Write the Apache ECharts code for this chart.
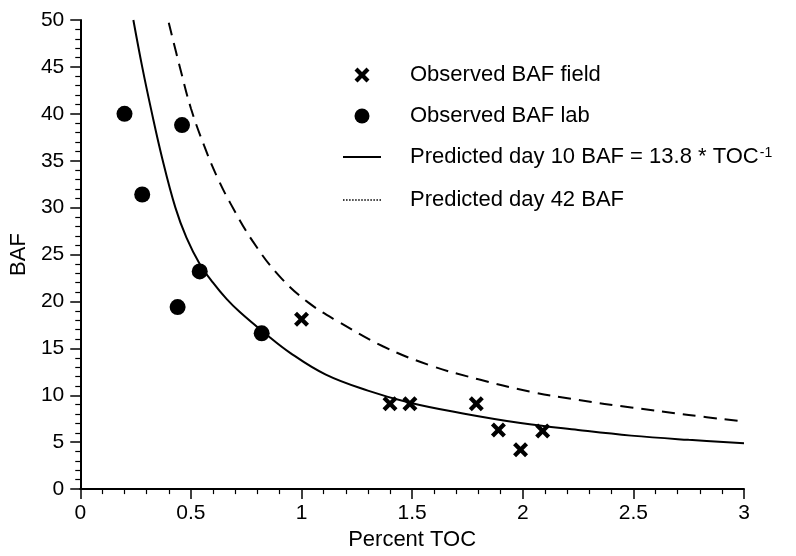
<!DOCTYPE html>
<html>
<head>
<meta charset="utf-8">
<script src="https://cdn.jsdelivr.net/npm/echarts@6/dist/echarts.min.js"></script>
<style>html,body{margin:0;padding:0;background:#fff}#c{width:796px;height:556px}</style>
</head>
<body>
<div id="c"></div>
<script>
// ---- data ----
var xTicks = [0, 0.5, 1, 1.5, 2, 2.5, 3];
var yTicks = [0, 5, 10, 15, 20, 25, 30, 35, 40, 45, 50];

var fieldX = [1.0, 1.40, 1.49, 1.79, 1.89, 1.99, 2.09];
var fieldY = [18.1, 9.1, 9.1, 9.1, 6.3, 4.2, 6.2];

var labX = [0.20, 0.28, 0.46, 0.44, 0.54, 0.82];
var labY = [40.0, 31.4, 38.8, 19.4, 23.2, 16.6];

var day10X = [0.24, 0.28, 0.32, 0.37, 0.43, 0.48, 0.54, 0.60, 0.66, 0.72, 0.83, 0.95, 1.11, 1.30, 1.49, 1.73, 1.99, 2.25, 2.49, 2.75, 3.0];
var day10Y = [50.0, 45.0, 40.5, 35.3, 30.0, 26.8, 24.0, 22.0, 20.3, 18.9, 16.7, 14.5, 12.2, 10.5, 9.2, 8.06, 7.04, 6.3, 5.7, 5.25, 4.9];

var day42X = [0.40, 0.45, 0.50, 0.56, 0.62, 0.68, 0.78, 0.90, 1.03, 1.17, 1.37, 1.58, 1.80, 2.03, 2.25, 2.49, 2.75, 3.0];
var day42Y = [49.7, 45.0, 40.6, 36.6, 33.2, 30.4, 26.4, 22.7, 19.9, 17.8, 15.2, 13.2, 11.7, 10.4, 9.5, 8.7, 7.9, 7.2];

var seriesNames = ['Observed BAF field', 'Observed BAF lab', 'Predicted day 10 BAF', 'Predicted day 42 BAF'];

function zip(a, b) { return a.map(function (v, i) { return [v, b[i]]; }); }

var FONT = 'Liberation Sans';
var xPath = 'path://M0,3 L3,0 L7.5,4.5 L12,0 L15,3 L10.5,7.5 L15,12 L12,15 L7.5,10.5 L3,15 L0,12 L4.5,7.5 Z';
var solidPath = 'path://M0,0H38V1.8H0Z';
var dotted = '';
for (var i = 0; i < 38; i += 3) dotted += 'M' + i + ',0h1.5v1.5h-1.5z';
var dottedPath = 'path://' + dotted;

var chart = echarts.init(document.getElementById('c'), null, {renderer: 'canvas'});
function axisCommon(labelMargin) {
  return {
    axisLine: {show: true, onZero: false, lineStyle: {color: '#000', width: 2}},
    axisTick: {show: true, length: 10, lineStyle: {color: '#000', width: 1.5}},
    minorTick: {show: true, splitNumber: 5, length: 5, lineStyle: {color: '#000', width: 1.2}},
    splitLine: {show: false},
    axisLabel: {color: '#000', fontFamily: FONT, fontSize: 21, margin: labelMargin},
    nameTextStyle: {color: '#000', fontFamily: FONT, fontSize: 22}
  };
}
chart.setOption({
  backgroundColor: '#fff',
  animation: false,
  grid: {left: 80, right: 52, top: 20, bottom: 60},
  xAxis: Object.assign({
    type: 'value', min: xTicks[0], max: xTicks[xTicks.length - 1], interval: xTicks[1] - xTicks[0],
    name: 'Percent TOC', nameLocation: 'middle', nameGap: 33
  }, axisCommon(14)),
  yAxis: Object.assign({
    type: 'value', min: yTicks[0], max: yTicks[yTicks.length - 1], interval: yTicks[1] - yTicks[0],
    name: 'BAF', nameLocation: 'middle', nameGap: 46
  }, axisCommon(16)),
  legend: {
    orient: 'vertical', left: 338, top: 59, itemWidth: 38, itemHeight: 15, itemGap: 19,
    selectedMode: false,
    textStyle: {
      color: '#000', fontFamily: FONT, fontSize: 22, lineHeight: 22, padding: [0, 0, 0, 24],
      rich: {
        a: {color: '#000', fontFamily: FONT, fontSize: 22, lineHeight: 22},
        s: {color: '#000', fontFamily: FONT, fontSize: 14, lineHeight: 22, verticalAlign: 'top', padding: [0, 0, 10, 1]}
      }
    },
    formatter: function (name) {
      if (name === seriesNames[2]) return '{a|Predicted day 10 BAF = 13.8 * TOC}{s|-1}';
      return name;
    },
    data: [
      {name: seriesNames[0], icon: xPath},
      {name: seriesNames[1], icon: 'circle'},
      {name: seriesNames[2], icon: solidPath},
      {name: seriesNames[3], icon: dottedPath}
    ]
  },
  series: [
    {name: seriesNames[0], type: 'scatter', data: zip(fieldX, fieldY), symbol: xPath, symbolSize: 15,
     itemStyle: {color: '#000', opacity: 1}},
    {name: seriesNames[1], type: 'scatter', data: zip(labX, labY), symbol: 'circle', symbolSize: 16,
     itemStyle: {color: '#000', opacity: 1}},
    {name: seriesNames[2], type: 'line', data: zip(day10X, day10Y), smooth: 0.4, showSymbol: false,
     symbol: 'none', itemStyle: {color: '#000'}, lineStyle: {color: '#000', width: 2}},
    {name: seriesNames[3], type: 'line', data: zip(day42X, day42Y), smooth: 0.4, showSymbol: false,
     symbol: 'none', itemStyle: {color: '#000'}, lineStyle: {color: '#000', width: 2, type: [13, 8]}}
  ]
});
</script>
</body>
</html>
